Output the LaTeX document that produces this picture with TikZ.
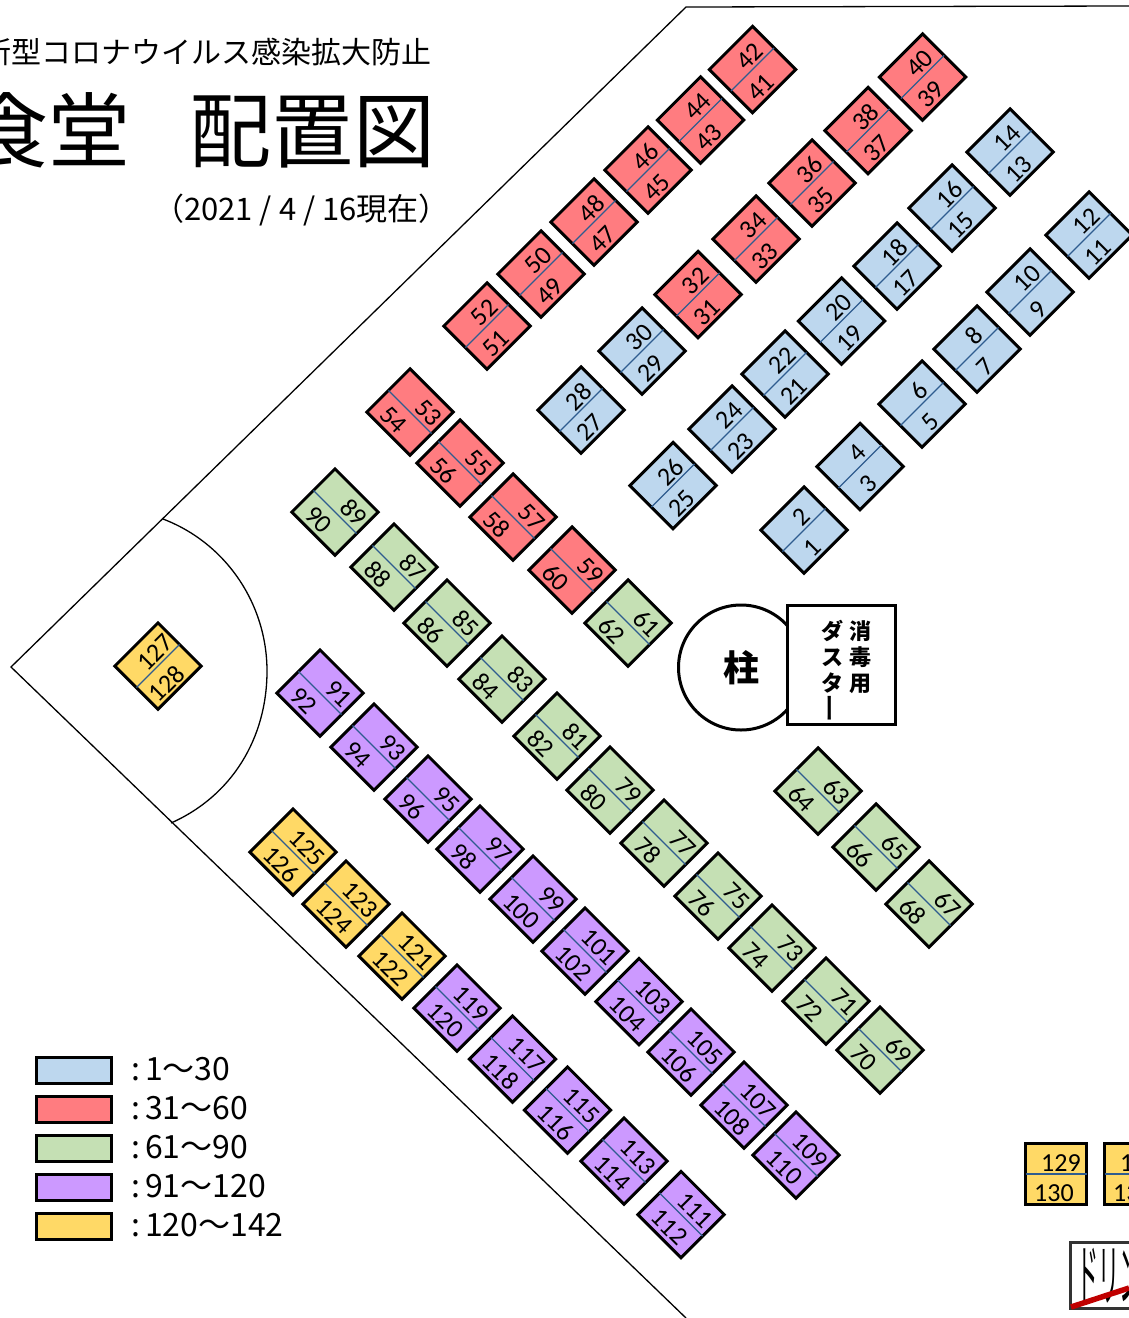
\documentclass[tikz,border=0pt]{standalone}
\usepackage{fontspec}
\setmainfont{Carlito}
\newfontfamily\jpfont{Noto Sans CJK JP}
\usetikzlibrary{positioning, calc}
\definecolor{seatblue}{HTML}{BDD7EE}
\definecolor{seatred}{HTML}{FF7C80}
\definecolor{seatgreen}{HTML}{C5E0B4}
\definecolor{seatpurple}{HTML}{CC99FF}
\definecolor{seatyellow}{HTML}{FFD966}
\definecolor{divideblue}{HTML}{2F5C8F}
\definecolor{crossred}{HTML}{C00000}
\tikzset{
	seat/.style = {rectangle, draw, line width = 3pt, minimum size = 61pt, inner sep = 0pt, outer sep = 0pt},
	divide/.style = {draw = divideblue, line width = 1.2pt},
	num/.style = {inner sep = 0pt, font = \fontsize{26}{26}\selectfont},
	wall/.style = {draw, line width = 1.3pt},
	legendbox/.style = {rectangle, draw, line width = 3pt, minimum width = 75pt, minimum height = 26pt, inner sep = 0pt},
	legendtext/.style = {anchor = west, inner sep = 0pt, font = \jpfont\fontsize{32}{32}\selectfont},
}
% seat whose numbers read up to the right
\newcommand{\seatup}[5]{
	\node[seat, fill = #5, rotate = 45] (seat#3) at (#1,#2) {};
	\draw[divide] (seat#3.west) -- (seat#3.east);
	\path (seat#3.center) ++(45:7.5pt) ++(135:11.5pt) node[num, rotate = 45] (n#3) {#3};
	\path (seat#3.center) ++(45:-6.5pt) ++(135:-18.5pt) node[num, rotate = 45] (n#4) {#4};
}
% seat whose numbers read down to the right
\newcommand{\seatdown}[5]{
	\node[seat, fill = #5, rotate = -45] (seat#3) at (#1,#2) {};
	\draw[divide] (seat#3.west) -- (seat#3.east);
	\path (seat#3.center) ++(-45:27pt) ++(45:13pt) node[num, rotate = -45, anchor = east] (n#3) {#3};
	\path (seat#3.center) ++(-45:-19.5pt) ++(45:-17pt) node[num, rotate = -45, anchor = west] (n#4) {#4};
}
\begin{document}
\begin{tikzpicture}[x = 1pt, y = -1pt]
	\useasboundingbox (0,0) rectangle (1129,1318);

	% walls
	\coordinate (apex) at (11,667);
	\coordinate (wallN) at (686,7);
	\coordinate (wallE) at (1129,6);
	\coordinate (wallS) at (686,1318);
	\coordinate (arcTop) at (163,519);
	\coordinate (arcMid) at (267,671);
	\coordinate (arcBot) at (171,823);
	\draw[wall] (wallE) -- (wallN) -- (apex) -- (wallS);
	\draw[wall] (arcTop) .. controls (226,543) and (267,604) .. (arcMid) .. controls (267,738) and (232,796) .. (arcBot);

	% titles
	\node[anchor = east, inner sep = 0pt, font = \jpfont\fontsize{30}{30}\selectfont] (subtitle) at (432,52) {新型コロナウイルス感染拡大防止};
	\node[anchor = east, inner sep = 0pt, font = \jpfont\fontsize{82}{82}\selectfont] (title) at (436,130) {食堂\hspace{59pt}配置図};
	\node[anchor = east, inner sep = 0pt, font = \jpfont\fontsize{31}{31}\selectfont] (date) at (450,210) {（2021\kern7pt/\kern7pt4\kern7pt/\kern7pt16現在）};

	% red and blue rows
	\foreach \x/\y/\up/\lo in {487/326/52/51, 541/274/50/49, 594/222/48/47, 648/170/46/45, 700.5/120/44/43, 752.5/69.5/42/41, 922.5/77/40/39, 868/130.5/38/37, 812/183/36/35, 756/239/34/33, 698/294.5/32/31}
		{\seatup{\x}{\y}{\up}{\lo}{seatred}}
	\foreach \x/\y/\up/\lo in {642/351/30/29, 581/410/28/27, 673/485.5/26/25, 732/429/24/23, 785/374/22/21, 841.5/321/20/19, 897/266/18/17, 952/208/16/15, 1010/152/14/13, 1089/235/12/11, 1030/292/10/9, 977/349/8/7, 922/404/6/5, 860/466.5/4/3, 804/530/2/1}
		{\seatup{\x}{\y}{\up}{\lo}{seatblue}}

	% long rows
	\foreach \x/\y/\up/\lo in {410/412/53/54, 460/463/55/56, 513/517/57/58, 572/570/59/60}
		{\seatdown{\x}{\y}{\up}{\lo}{seatred}}
	\foreach \x/\y/\up/\lo in {628/623/61/62, 335/512/89/90, 394/567/87/88, 447/623/85/86, 502/679/83/84, 557/736/81/82, 610/790/79/80, 664/843/77/78, 718/896/75/76, 772/948/73/74, 826/1001/71/72, 880/1050/69/70, 818/791/63/64, 876/847/65/66, 929/904/67/68}
		{\seatdown{\x}{\y}{\up}{\lo}{seatgreen}}
	\foreach \x/\y/\up/\lo in {320/693/91/92, 374/747/93/94, 428/799/95/96, 480/849/97/98, 533/899/99/100, 585/951/101/102, 639/1001.5/103/104, 691/1052/105/106, 744/1105/107/108, 796/1155/109/110, 457/1008/119/120, 512.5/1059/117/118, 567.5/1110/115/116, 624/1161/113/114, 681/1214.5/111/112}
		{\seatdown{\x}{\y}{\up}{\lo}{seatpurple}}
	\foreach \x/\y/\up/\lo in {293/852/125/126, 346/904/123/124, 402/956/121/122}
		{\seatdown{\x}{\y}{\up}{\lo}{seatyellow}}
	\seatup{158}{666}{127}{128}{seatyellow}

	% square seats
	\foreach \x/\up/\lo in {1056/129/130, 1135/131/132}{
		\node[seat, fill = seatyellow] (seat\up) at (\x,1174) {};
		\draw[divide] (seat\up.west) -- (seat\up.east);
		\node[num] (n\up) at (\x+5,1163) {\up};
		\node[num] (n\lo) at (\x-2,1193) {\lo};
	}

	% pillar and sanitizer
	\node[circle, draw, line width = 3pt, fill = white, minimum size = 125pt, inner sep = 0pt, font = \jpfont\bfseries\fontsize{36}{36}\selectfont] (pillar) at (741,667.5) {柱};
	\node[rectangle, draw, line width = 3pt, fill = white, minimum width = 108pt, minimum height = 119pt] (duster) at (841,664.5) {};
	\node[align = center, inner sep = 0pt, anchor = north, font = \jpfont\bfseries\fontsize{22}{26}\selectfont] (sanitize) at (860,620) {消\\毒\\用};
	\node[align = center, inner sep = 0pt, anchor = north, font = \jpfont\bfseries\fontsize{22}{26}\selectfont] (dustertext) at (832,620) {ダ\\ス\\タ\\[-2pt]\scalebox{0.8}[1.3]{\rotatebox[origin = c]{90}{ー}}};

	% legend
	\foreach \col/\range/\y in {seatblue/1～30/1070.5, seatred/31～60/1109.5, seatgreen/61～90/1148.5, seatpurple/91～120/1187.5, seatyellow/120～142/1226.5}{
		\node[legendbox, fill = \col] (box\col) at (74,\y) {};
		\node[legendtext] (label\col) at (131,\y-1) {:\kern5pt\range};
	}

	% closed drink corner
	\node[rectangle, draw = black!80, line width = 2.5pt, fill = white, minimum width = 100pt, minimum height = 66pt, anchor = north west, inner sep = 0pt] (drinkbox) at (1069,1241) {};
	\node[anchor = west, inner sep = 0pt, xscale = 0.31, font = \jpfont\fontsize{68}{68}\selectfont] (drink) at (1077,1275) {ドリンク};
	\coordinate (crossEnd) at (1129,1288);
	\coordinate (crossStart) at (1071,1307);
	\draw[draw = crossred, line width = 5.5pt] (crossStart) -- (crossEnd);
\end{tikzpicture}
\end{document}
